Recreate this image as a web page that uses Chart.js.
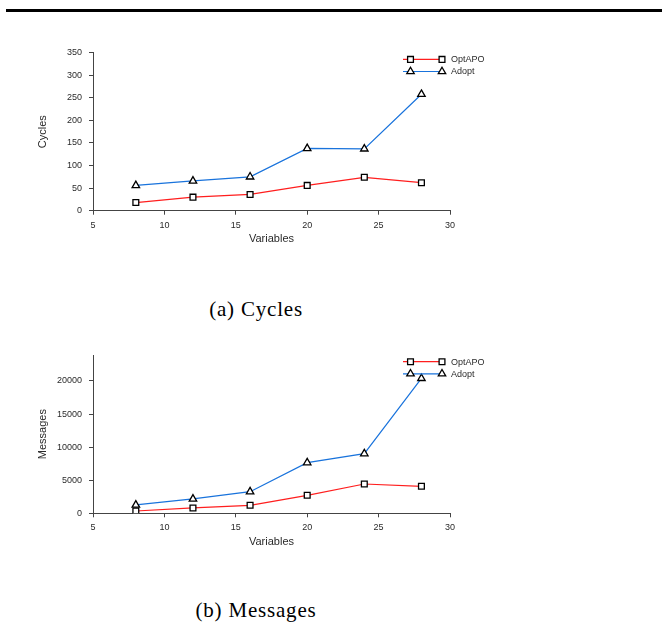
<!DOCTYPE html>
<html>
<head>
<meta charset="utf-8">
<script src="https://cdn.jsdelivr.net/npm/chart.js@4/dist/chart.umd.min.js"></script>
<style>
  body { margin: 0; background: #fff; width: 662px; height: 623px; position: relative; overflow: hidden; }
  .rule { position: absolute; left: 6px; top: 9px; width: 656px; height: 3px; background: #000; }
  .box { position: absolute; left: 0; width: 530px; height: 220px; }
  .caption { position: absolute; left: 0; width: 512px; text-align: center;
             font-family: "Liberation Serif", serif; font-size: 21px; letter-spacing: 0.8px; color: #000; }
</style>
</head>
<body>
<div class="rule"></div>
<div class="box" style="top:40px"><canvas id="cyclesChart"></canvas></div>
<div class="caption" style="top:297px">(a) Cycles</div>
<div class="box" style="top:340px"><canvas id="messagesChart"></canvas></div>
<div class="caption" style="top:598px">(b) Messages</div>
<script>
const variables = [8, 12, 16, 20, 24, 28];
const cyclesOptAPO = [18, 30, 36, 56, 74, 62];
const cyclesAdopt = [56, 66, 75, 138, 137, 258];
const messagesOptAPO = [350, 806, 1210, 2720, 4430, 4080];
const messagesAdopt = [1260, 2170, 3270, 7660, 9020, 20400];
const seriesNames = ['OptAPO', 'Adopt'];
const xTicks = [5, 10, 15, 20, 25, 30];
const cyclesTicks = [0, 50, 100, 150, 200, 250, 300, 350];
const messagesTicks = [0, 5000, 10000, 15000, 20000];

const RED = 'rgb(255,30,30)';
const BLUE = 'rgb(25,115,220)';
const TEXT = '#2a2a2a';
const AXIS = '#444';

function pts(ys) {
  return variables.map((x, i) => ({ x: x, y: ys[i] }));
}

function makeDataset(label, ys, color, style, radius) {
  return {
    label: label,
    data: pts(ys),
    borderColor: color,
    borderWidth: 1.2,
    pointStyle: style,
    pointRadius: radius,
    pointBorderColor: '#000',
    pointBackgroundColor: '#fff',
    pointBorderWidth: 1.3,
    tension: 0
  };
}

// legend: short line with a marker at both ends, drawn inside the plot area
const lineLegend = {
  id: 'lineLegend',
  afterDatasetsDraw(chart) {
    const ctx = chart.ctx;
    const area = chart.chartArea;
    const rows = [6.7, 18.8];
    chart.data.datasets.forEach((ds, i) => {
      const y = area.top + rows[i];
      ctx.save();
      ctx.strokeStyle = ds.borderColor;
      ctx.lineWidth = ds.borderWidth;
      ctx.beginPath();
      ctx.moveTo(area.right - 47, y);
      ctx.lineTo(area.right - 8, y);
      ctx.stroke();
      ctx.fillStyle = '#fff';
      ctx.strokeStyle = '#000';
      ctx.lineWidth = ds.pointBorderWidth;
      [area.right - 39.5, area.right - 8].forEach(px => {
        Chart.helpers.drawPoint(ctx, { pointStyle: ds.pointStyle, radius: ds.pointRadius, rotation: 0, borderWidth: ds.pointBorderWidth }, px, y);
      });
      ctx.fillStyle = TEXT;
      ctx.font = '9px "Liberation Sans", Arial, sans-serif';
      ctx.textBaseline = 'middle';
      ctx.textAlign = 'left';
      ctx.fillText(ds.label, area.right + 1, y + 0.5);
      ctx.restore();
    });
  }
};

function makeChart(id, yTitle, optApo, adopt, yTicks, yMax, padTop, padBottom) {
  const tickFont = { family: '"Liberation Sans", Arial, sans-serif', size: 9 };
  const titleFont = { family: '"Liberation Sans", Arial, sans-serif', size: 11 };
  new Chart(document.getElementById(id), {
    type: 'line',
    data: {
      datasets: [
        makeDataset(seriesNames[0], optApo, RED, 'rect', 4.1),
        makeDataset(seriesNames[1], adopt, BLUE, 'triangle', 4.3)
      ]
    },
    options: {
      responsive: true,
      maintainAspectRatio: false,
      animation: false,
      layout: { padding: { left: 0, right: 80, top: padTop, bottom: padBottom } },
      plugins: { legend: { display: false }, tooltip: { enabled: false } },
      scales: {
        x: {
          type: 'linear',
          min: xTicks[0],
          max: xTicks[xTicks.length - 1],
          afterBuildTicks(scale) { scale.ticks = xTicks.map(v => ({ value: v })); },
          ticks: { color: TEXT, font: tickFont, padding: 5, maxRotation: 0, callback: v => String(v) },
          grid: { drawOnChartArea: false, tickLength: 4, tickColor: AXIS },
          border: { color: AXIS, width: 1 },
          title: { display: true, text: 'Variables', color: TEXT, font: titleFont, padding: { top: 0, bottom: 5 } },
          afterFit(scale) { scale.height = 40; }
        },
        y: {
          type: 'linear',
          min: 0,
          max: yMax,
          afterBuildTicks(scale) { scale.ticks = yTicks.map(v => ({ value: v })); },
          ticks: { color: TEXT, font: tickFont, padding: 7, callback: v => String(v) },
          grid: { drawOnChartArea: false, tickLength: 4, tickColor: AXIS },
          border: { color: AXIS, width: 1 },
          title: { display: true, text: yTitle, color: TEXT, font: titleFont, padding: { top: 36, bottom: 0 } },
          afterFit(scale) { scale.width = 93; }
        }
      }
    },
    plugins: [lineLegend]
  });
}

makeChart('cyclesChart', 'Cycles', cyclesOptAPO, cyclesAdopt, cyclesTicks, 350, 12.7, 9.3);
makeChart('messagesChart', 'Messages', messagesOptAPO, messagesAdopt, messagesTicks, 23930, 15, 6.7);
</script>
</body>
</html>
